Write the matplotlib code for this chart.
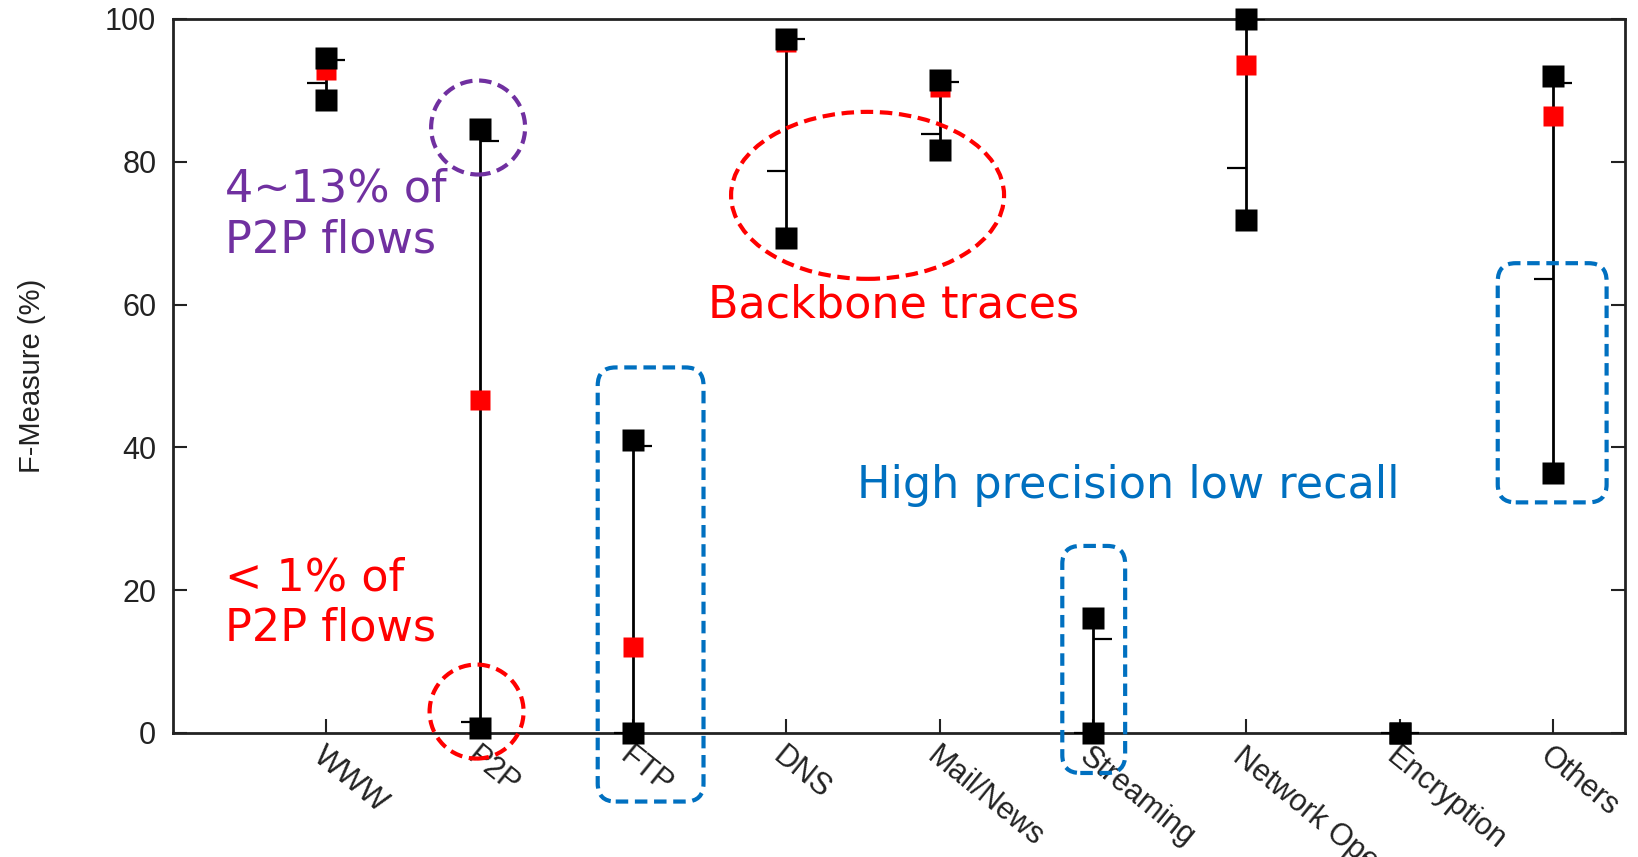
import numpy as np
import matplotlib.pyplot as plt
from matplotlib.patches import Ellipse, FancyBboxPatch

# F-Measure per traffic class
categories = ['WWW', 'P2P', 'FTP', 'DNS', 'Mail/News', 'Streaming',
              'Network Operation', 'Encryption', 'Others']
f_max = [94.6, 84.6, 41.1, 97.2, 91.5, 16.1, 100.0, 0.0, 92.0]
f_min = [88.7, 0.7, 0.0, 69.3, 81.6, 0.0, 71.8, 0.0, 36.4]
f_red = [92.8, 46.6, 12.0, 96.8, 90.5, 0.0, 93.6, 0.0, 86.4]
tick_left = [91.1, 1.5, 0.0, 78.7, 83.9, 0.0, 79.2, 0.0, 63.6]
tick_right = [94.3, 82.9, 40.2, 97.2, 91.2, 13.2, 100.0, 0.0, 91.1]
yticks = [0, 20, 40, 60, 80, 100]

RED = '#ff0000'
BLUE = '#0070c0'
PURPLE = '#7030a0'

W, H = 1638, 857
fig = plt.figure(figsize=(W / 100, H / 100), dpi=100)
ax_l, ax_r, ax_t, ax_b = 173, 1625, 19, 733
ax = fig.add_axes([ax_l / W, 1 - ax_b / H, (ax_r - ax_l) / W, (ax_b - ax_t) / H])

xmax = 9.47
ax.set_xlim(0, xmax)
ax.set_ylim(0, 100)
sx = (ax_r - ax_l) / xmax   # px per x unit
sy = (ax_b - ax_t) / 100.0  # px per y unit

xs = np.arange(1, len(categories) + 1)
ax.vlines(xs, f_min, f_max, color='black', lw=2, zorder=2)
ax.plot(xs, f_red, 's', color=RED, ms=14.5, mec='none', zorder=3, clip_on=False)
ax.plot(xs, f_max, 's', color='black', ms=15.5, mec='none', zorder=4, clip_on=False)
ax.plot(xs, f_min, 's', color='black', ms=15.5, mec='none', zorder=4, clip_on=False)
ax.plot(xs, tick_left, ls='none', marker=0, ms=14, mew=1.6, color='black', zorder=5)
ax.plot(xs, tick_right, ls='none', marker=1, ms=14, mew=1.6, color='black', zorder=5)

ax.set_xticks(xs)
ax.set_xticklabels(categories, rotation=-39, ha='left', va='top',
                   rotation_mode='anchor', fontsize=22, family='Liberation Sans')
ax.set_yticks(yticks)
ax.set_yticklabels([str(v) for v in yticks], fontsize=22, family='Liberation Sans')
ax.tick_params(direction='in', length=10, width=1.5, right=True, top=False, colors='#222222')
ax.tick_params(axis='y', pad=12)
ax.tick_params(axis='x', pad=6)
for s in ax.spines.values():
    s.set_linewidth(2)
    s.set_color('#222222')

ax.set_ylabel('F-Measure (%)', fontsize=21, family='Liberation Sans', color='#222222')
ax.yaxis.set_label_coords((46 - ax_l) / (ax_r - ax_l), 0.5)


# annotations (sizes given in pixels)
def ring(xc, yc, w_px, h_px, color):
    e = Ellipse((xc, yc), w_px / sx, h_px / sy, fill=False, ec=color, lw=3,
                ls=(0, (3, 1.6)), clip_on=False, zorder=6)
    ax.add_patch(e)


def rbox(x0, x1, y0, y1, color, r_px=18):
    b = FancyBboxPatch((x0, y0), x1 - x0, y1 - y0,
                       boxstyle=f'round,pad=0,rounding_size={r_px / sx}',
                       mutation_aspect=sx / sy, fill=False, ec=color, lw=3,
                       ls=(0, (3, 1.6)), clip_on=False, zorder=6)
    ax.add_patch(b)


ring(1.99, 84.8, 94, 94, PURPLE)
ring(1.98, 3.0, 94, 94, RED)
ring(4.53, 75.3, 273, 167, RED)

rbox(2.77, 3.46, -9.6, 51.2, BLUE)
rbox(5.80, 6.21, -5.6, 26.2, BLUE)
rbox(8.64, 9.35, 32.3, 65.8, BLUE)

ax.text(0.34, 72.6, '4~13% of\nP2P flows', color=PURPLE, fontsize=32,
        va='center', ha='left', linespacing=1.22)
ax.text(0.34, 18.2, '< 1% of\nP2P flows', color=RED, fontsize=32,
        va='center', ha='left', linespacing=1.22)
ax.text(3.49, 59.9, 'Backbone traces', color=RED, fontsize=32, va='center', ha='left')
ax.text(4.46, 34.6, 'High precision low recall', color=BLUE, fontsize=32,
        va='center', ha='left')

fig.savefig('out.png', dpi=100)
